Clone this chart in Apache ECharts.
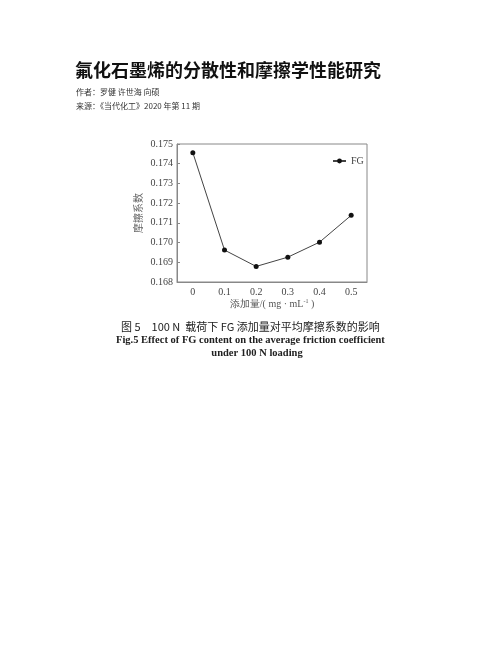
<!DOCTYPE html>
<html><head><meta charset="utf-8">
<script src="https://cdn.jsdelivr.net/npm/echarts@6/dist/echarts.min.js"></script>
<style>html,body{margin:0;padding:0;background:#fff}#c{width:502px;height:649px}</style>
</head><body><div id="c"></div>
<script>
const categories = ['0', '0.1', '0.2', '0.3', '0.4', '0.5'];
const fgValues = [0.17456, 0.16962, 0.16879, 0.16926, 0.17002, 0.17138];
const yTicks = { min: 0.168, max: 0.175, interval: 0.001 };

const chart = echarts.init(document.getElementById('c'));
const serif = '"Liberation Serif", "DejaVu Serif", serif';
const cjk = '"Noto Sans CJK SC", sans-serif';
chart.setOption({
  animation: false,
  backgroundColor: '#fff',
  graphic: [
    { type: 'text', left: 75, top: 61, style: { text: '氟化石墨烯的分散性和摩擦学性能研究', font: 'bold 18px "Noto Sans CJK SC"', fill: '#111' } },
    { type: 'text', left: 76, top: 88, style: { text: '作者：罗健 许世海 向硕', font: '8px "Noto Sans CJK SC"', fill: '#333' } },
    { type: 'text', left: 76, top: 102, style: { text: '来源：《当代化工》2020 年第 11 期', font: '8px "Noto Sans CJK SC"', fill: '#333' } },
    { type: 'text', left: 121, top: 321, style: { text: '图 5　100 N  载荷下 FG 添加量对平均摩擦系数的影响', font: '11px "Noto Sans CJK SC"', fill: '#222' } },
    { type: 'text', left: 116, top: 335, style: { text: 'Fig.5 Effect of FG content on the average friction coefficient', font: 'bold 10.5px "Liberation Serif"', fill: '#222' } },
    { type: 'text', x: 0, top: 348, style: { text: 'under 100 N loading', font: 'bold 10.5px "Liberation Serif"', fill: '#222', x: 257, textAlign: 'center' } }
  ],
  grid: { left: 177, top: 144, width: 190, height: 138, show: true, borderColor: '#888', borderWidth: 1, backgroundColor: 'transparent' },
  legend: {
    data: ['FG'], left: 327, top: 151, itemWidth: 13, itemHeight: 6, itemGap: 4,
    textStyle: { fontFamily: serif, fontSize: 10, color: '#444' }
  },
  xAxis: {
    type: 'category', data: categories, boundaryGap: true,
    axisLine: { lineStyle: { color: '#888' } },
    axisTick: { inside: true, alignWithLabel: true, length: 3, lineStyle: { color: '#888' } },
    axisLabel: { fontFamily: serif, fontSize: 10, color: '#444', margin: 5 },
    splitLine: { show: false },
    name: '添加量/( mg · mL{sup|-1} )', nameLocation: 'middle', nameGap: 16,
    nameTextStyle: { fontFamily: serif, fontSize: 10, color: '#555', rich: { sup: { fontSize: 6, verticalAlign: 'top', padding: [0, 0, 6, 0], fontFamily: serif, color: '#555' } } }
  },
  yAxis: {
    type: 'value', min: yTicks.min, max: yTicks.max, interval: yTicks.interval,
    axisLine: { show: true, lineStyle: { color: '#888' } },
    axisTick: { show: true, inside: true, length: 3, lineStyle: { color: '#888' } },
    axisLabel: { fontFamily: serif, fontSize: 10, color: '#444', margin: 4, formatter: v => v.toFixed(3) },
    splitLine: { show: false },
    name: '摩擦系数', nameLocation: 'middle', nameGap: 34, nameRotate: 90,
    nameTextStyle: { fontFamily: cjk, fontSize: 10, color: '#666' }
  },
  series: [{
    name: 'FG', type: 'line', data: fgValues,
    symbol: 'circle', symbolSize: 5,
    itemStyle: { color: '#111' },
    lineStyle: { color: '#444', width: 1 }
  }]
});
</script></body></html>
